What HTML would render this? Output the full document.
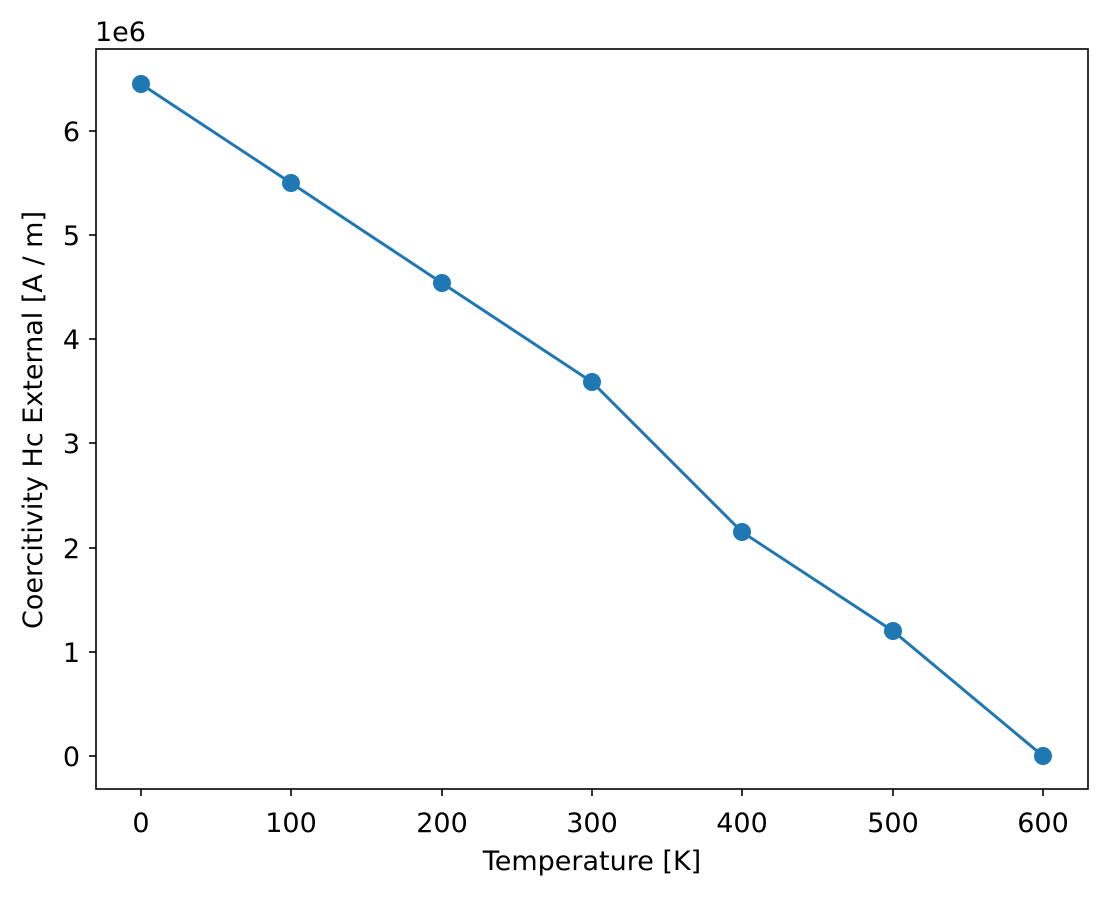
<!DOCTYPE html>
<html><head><style>body{margin:0;background:#fff}</style></head><body>
<svg width="1108" height="896" xmlns="http://www.w3.org/2000/svg" font-family="DejaVu Sans, Liberation Sans, sans-serif" font-size="27">
<rect x="96" y="49" width="992" height="740" fill="#fff" stroke="#000" stroke-width="1.6"/>
<g stroke="#000" stroke-width="1.6">
<line x1="141" y1="789" x2="141" y2="796"/><line x1="291" y1="789" x2="291" y2="796"/><line x1="442" y1="789" x2="442" y2="796"/><line x1="592" y1="789" x2="592" y2="796"/><line x1="742" y1="789" x2="742" y2="796"/><line x1="893" y1="789" x2="893" y2="796"/><line x1="1043" y1="789" x2="1043" y2="796"/>
<line x1="89" y1="756" x2="96" y2="756"/><line x1="89" y1="652" x2="96" y2="652"/><line x1="89" y1="548" x2="96" y2="548"/><line x1="89" y1="443" x2="96" y2="443"/><line x1="89" y1="339" x2="96" y2="339"/><line x1="89" y1="235" x2="96" y2="235"/><line x1="89" y1="131" x2="96" y2="131"/>
</g>
<g text-anchor="middle">
<text x="141" y="832">0</text><text x="291" y="832">100</text><text x="442" y="832">200</text><text x="592" y="832">300</text><text x="742" y="832">400</text><text x="893" y="832">500</text><text x="1043" y="832">600</text>
<text x="592" y="870">Temperature [K]</text>
</g>
<g text-anchor="end">
<text x="80" y="766">0</text><text x="80" y="662">1</text><text x="80" y="558">2</text><text x="80" y="453">3</text><text x="80" y="349">4</text><text x="80" y="245">5</text><text x="80" y="141">6</text>
</g>
<text x="95" y="41">1e6</text>
<text transform="translate(42,420) rotate(-90)" text-anchor="middle">Coercitivity Hc External [A / m]</text>
<polyline fill="none" stroke="#1f77b4" stroke-width="3" points="141,84 291,183 442,283 592,382 742,532 893,631 1043,756"/>
<g fill="#1f77b4">
<circle cx="141" cy="84" r="9"/><circle cx="291" cy="183" r="9"/><circle cx="442" cy="283" r="9"/><circle cx="592" cy="382" r="9"/><circle cx="742" cy="532" r="9"/><circle cx="893" cy="631" r="9"/><circle cx="1043" cy="756" r="9"/>
</g>
</svg>
</body></html>
